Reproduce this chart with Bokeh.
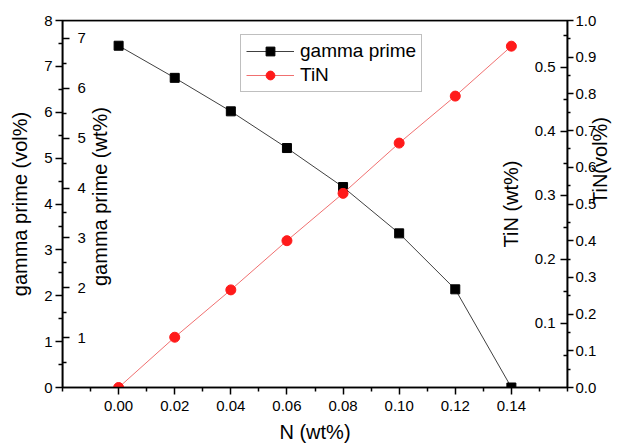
from math import pi
from bokeh.plotting import figure
from bokeh.models import Range1d, LinearAxis, FixedTicker, NumeralTickFormatter
from bokeh.embed import file_html
from bokeh.resources import INLINE

# ---- data ----
n_wt = [0.00, 0.02, 0.04, 0.06, 0.08, 0.10, 0.12, 0.14]
gamma_prime_vol = [7.45, 6.75, 6.02, 5.22, 4.37, 3.36, 2.14, 0.0]
tin_vol = [0.0, 0.137, 0.266, 0.400, 0.529, 0.666, 0.794, 0.930]

# ---- ticks ----
x_ticks = [0.00, 0.02, 0.04, 0.06, 0.08, 0.10, 0.12, 0.14]
x_minor = [-0.02, -0.01, 0.01, 0.03, 0.05, 0.07, 0.09, 0.11, 0.13, 0.15, 0.16]
gvol_ticks = [0, 1, 2, 3, 4, 5, 6, 7, 8]
gvol_minor = [0.5, 1.5, 2.5, 3.5, 4.5, 5.5, 6.5, 7.5]
gwt_ticks = [1, 2, 3, 4, 5, 6, 7]
gwt_minor = [0.5, 1.5, 2.5, 3.5, 4.5, 5.5, 6.5]
tinwt_ticks = [0.1, 0.2, 0.3, 0.4, 0.5]
tinwt_minor = [0.05, 0.15, 0.25, 0.35, 0.45, 0.55]
tinvol_ticks = [0.0, 0.1, 0.2, 0.3, 0.4, 0.5, 0.6, 0.7, 0.8, 0.9, 1.0]
tinvol_minor = [0.05, 0.15, 0.25, 0.35, 0.45, 0.55, 0.65, 0.75, 0.85, 0.95]

FONT = "Liberation Sans"
TICK_FS = "15px"
LAB_FS = "20px"

p = figure(width=629, height=447, output_backend="svg", toolbar_location=None,
           x_range=Range1d(-0.02, 0.16), y_range=Range1d(0, 8),
           min_border_left=62, min_border_right=62, min_border_top=20, min_border_bottom=60)
p.extra_y_ranges = {
    "gwt": Range1d(0, 7.36),
    "tinwt": Range1d(0, 0.573),
    "tinvol": Range1d(0, 1.0),
}
p.xgrid.visible = False
p.ygrid.visible = False
p.outline_line_color = "black"
p.outline_line_width = 1.5
p.background_fill_color = "white"
p.border_fill_color = "white"


def style(ax, tick_out=7, minor_out=4, standoff=5):
    ax.axis_line_color = "black"
    ax.axis_line_width = 1.5
    ax.major_tick_line_color = "black"
    ax.major_tick_line_width = 1.5
    ax.minor_tick_line_color = "black"
    ax.minor_tick_line_width = 1.5
    ax.major_tick_in = 0
    ax.major_tick_out = tick_out
    ax.minor_tick_in = 0
    ax.minor_tick_out = minor_out
    ax.major_label_text_font = FONT
    ax.major_label_text_font_size = TICK_FS
    ax.major_label_text_color = "black"
    ax.major_label_standoff = standoff
    ax.axis_label_text_font = FONT
    ax.axis_label_text_font_size = LAB_FS
    ax.axis_label_text_font_style = "normal"
    ax.axis_label_text_color = "black"


def title_axis(label, range_name, loc, bounds, standoff):
    """A tick-less axis that only carries a bottom-to-top title, centred via its bounds."""
    ax = LinearAxis(y_range_name=range_name, fixed_location=loc, bounds=bounds,
                    ticker=FixedTicker(ticks=[bounds[0]], minor_ticks=[]),
                    axis_label=label)
    style(ax, tick_out=0, minor_out=0, standoff=0)
    ax.axis_line_color = None
    ax.major_tick_line_color = None
    ax.minor_tick_line_color = None
    ax.major_label_text_color = None
    ax.major_label_text_font_size = "0px"
    ax.axis_label_orientation = pi / 2
    ax.axis_label_standoff = standoff
    return ax


# bottom x axis
xa = p.xaxis[0]
xa.ticker = FixedTicker(ticks=x_ticks, minor_ticks=x_minor)
xa.formatter = NumeralTickFormatter(format="0.00")
xa.axis_label = "N (wt%)"
style(xa, standoff=6)
xa.axis_label_standoff = 7

# top x axis (ticks only, on the top frame edge)
xt = LinearAxis(ticker=FixedTicker(ticks=x_ticks, minor_ticks=x_minor), fixed_location=8)
style(xt, tick_out=5, minor_out=4, standoff=0)
xt.major_label_text_color = None
p.add_layout(xt, "above")

# left outer: gamma prime (vol%)
ya = p.yaxis[0]
ya.ticker = FixedTicker(ticks=gvol_ticks, minor_ticks=gvol_minor)
ya.formatter = NumeralTickFormatter(format="0")
ya.axis_label = "gamma prime (vol%)"
style(ya, standoff=3)
ya.axis_label_standoff = 10

# left inner: gamma prime (wt%) -- drawn on the left frame edge, ticks pointing inward
y_gwt = LinearAxis(y_range_name="gwt", fixed_location=-0.02,
                   ticker=FixedTicker(ticks=gwt_ticks, minor_ticks=gwt_minor),
                   formatter=NumeralTickFormatter(format="0"))
style(y_gwt, tick_out=7, minor_out=4, standoff=8)
p.add_layout(y_gwt, "right")
p.add_layout(title_axis("gamma prime (wt%)", "gwt", -0.02, (0.0, 4.08), 37), "right")

# right inner: TiN (wt%) -- drawn on the right frame edge, ticks pointing inward
y_tinwt = LinearAxis(y_range_name="tinwt", fixed_location=0.16,
                     ticker=FixedTicker(ticks=tinwt_ticks, minor_ticks=tinwt_minor),
                     formatter=NumeralTickFormatter(format="0.0"),
                     axis_label="TiN (wt%)")
style(y_tinwt, tick_out=7, minor_out=4, standoff=5)
y_tinwt.axis_label_standoff = 10
p.add_layout(y_tinwt, "left")

# right outer: TiN (vol%) ticks and labels
y_tinvol = LinearAxis(y_range_name="tinvol",
                      ticker=FixedTicker(ticks=tinvol_ticks, minor_ticks=tinvol_minor),
                      formatter=NumeralTickFormatter(format="0.0"))
style(y_tinvol, tick_out=6, minor_out=3, standoff=2)
p.add_layout(y_tinvol, "right")

# its title: a tick-less axis stacked outside it (not pinned, so it is not clipped)
tinvol_title = title_axis("TiN(vol%)", "tinvol", None, (0.0, 0.752), 0)
p.add_layout(tinvol_title, "right")

# series
p.line(n_wt, gamma_prime_vol, line_color="#404040", line_width=1, legend_label="gamma prime")
p.scatter(n_wt, gamma_prime_vol, marker="square", size=9, fill_color="black",
          line_color="black", legend_label="gamma prime")
p.line(n_wt, tin_vol, line_color="#f07070", line_width=1, y_range_name="tinvol", legend_label="TiN")
p.scatter(n_wt, tin_vol, marker="circle", size=10, fill_color="#ff1a1a",
          line_color="#ff1a1a", y_range_name="tinvol", legend_label="TiN")

lg = p.legend[0]
lg.location = (178, 295)
lg.border_line_color = "#808080"
lg.border_line_width = 1.5
lg.background_fill_color = "white"
lg.background_fill_alpha = 1.0
lg.label_text_font = FONT
lg.label_text_font_size = "19px"
lg.label_text_color = "black"
lg.glyph_width = 48
lg.glyph_height = 22
lg.label_height = 22
lg.label_standoff = 6
lg.spacing = 2
lg.padding = 5
lg.margin = 0

open("out.html", "w").write(file_html(p, INLINE))
